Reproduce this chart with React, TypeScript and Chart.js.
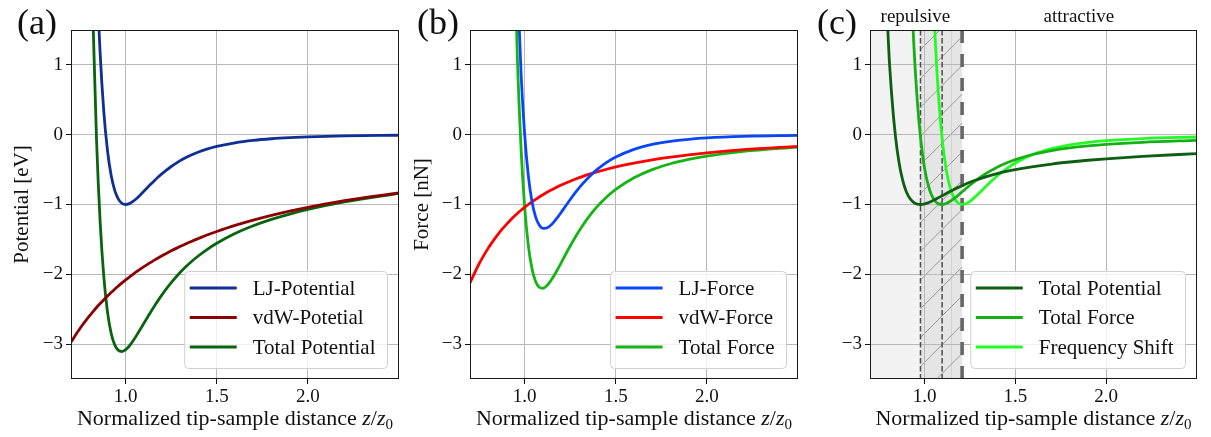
import React, { useEffect, useRef } from "react";
import { Chart, registerables } from "chart.js";

Chart.register(...registerables);

const FONT = '"Liberation Serif", "Times New Roman", serif';

// Normalized tip-sample distance z/z0 (sample positions)
const zGrid = [
  0.70, 0.75, 0.80, 0.82, 0.84, 0.86, 0.88, 0.90, 0.92, 0.94,
  0.96, 0.98, 1.00, 1.02, 1.04, 1.06, 1.08, 1.10, 1.12, 1.14,
  1.16, 1.18, 1.20, 1.22, 1.25, 1.28, 1.32, 1.36, 1.40, 1.45,
  1.50, 1.60, 1.70, 1.80, 1.90, 2.00, 2.20, 2.50,
];

// (a) potentials [eV]
const ljPotential = [
  55.25, 20.33, 6.923, 4.241, 2.410, 1.166, 0.330, -0.2227, -0.5786, -0.7979,
  -0.9230, -0.9834, -1.0, -0.9875, -0.9560, -0.9130, -0.8632, -0.8103, -0.7566, -0.7036,
  -0.6524, -0.6036, -0.5576, -0.5146, -0.4556, -0.4031, -0.3424, -0.2911, -0.2480, -0.2036,
  -0.1679, -0.1157, -0.0811, -0.0579, -0.0421, -0.0310, -0.0176, -0.0082,
];
const vdwPotential = [
  -2.971, -2.773, -2.600, -2.537, -2.476, -2.419, -2.364, -2.311, -2.261, -2.213,
  -2.167, -2.122, -2.080, -2.039, -2.000, -1.962, -1.926, -1.891, -1.857, -1.825,
  -1.793, -1.763, -1.733, -1.705, -1.664, -1.625, -1.576, -1.529, -1.486, -1.434,
  -1.387, -1.300, -1.224, -1.156, -1.095, -1.040, -0.945, -0.832,
];
const totalPotential = [
  52.28, 17.56, 4.323, 1.704, -0.066, -1.253, -2.034, -2.534, -2.840, -3.011,
  -3.090, -3.106, -3.080, -3.027, -2.956, -2.875, -2.789, -2.701, -2.614, -2.528,
  -2.446, -2.366, -2.291, -2.220, -2.120, -2.028, -1.918, -1.821, -1.734, -1.638,
  -1.555, -1.416, -1.305, -1.214, -1.137, -1.071, -0.963, -0.840,
];

// (b) forces [nN]
const ljForce = [
  546.4, 207.6, 80.53, 55.10, 37.55, 25.38, 16.93, 11.06, 6.983, 4.159,
  2.216, 0.891, 0.0, -0.585, -0.956, -1.177, -1.295, -1.341, -1.339, -1.305,
  -1.252, -1.186, -1.114, -1.039, -0.928, -0.823, -0.697, -0.587, -0.494, -0.397,
  -0.320, -0.210, -0.140, -0.095, -0.066, -0.046, -0.024, -0.010,
];
const vdwForce = [
  -2.122, -1.849, -1.625, -1.547, -1.474, -1.406, -1.343, -1.284, -1.229, -1.177,
  -1.128, -1.083, -1.040, -1.000, -0.962, -0.926, -0.892, -0.860, -0.829, -0.800,
  -0.773, -0.747, -0.722, -0.699, -0.666, -0.635, -0.597, -0.562, -0.531, -0.495,
  -0.462, -0.406, -0.360, -0.321, -0.288, -0.260, -0.215, -0.166,
];
const totalForce = [
  544.2, 205.8, 78.90, 53.55, 36.07, 23.97, 15.59, 9.776, 5.754, 2.982,
  1.088, -0.192, -1.040, -1.585, -1.918, -2.103, -2.186, -2.201, -2.168, -2.106,
  -2.025, -1.933, -1.836, -1.738, -1.594, -1.458, -1.294, -1.149, -1.024, -0.892,
  -0.783, -0.617, -0.500, -0.416, -0.354, -0.306, -0.239, -0.176,
];

// (c) normalized curves
const normPotential = [
  16.83, 5.65, 1.392, 0.549, -0.021, -0.403, -0.655, -0.816, -0.914, -0.969,
  -0.995, -1.000, -0.992, -0.974, -0.952, -0.926, -0.898, -0.870, -0.842, -0.814,
  -0.787, -0.762, -0.738, -0.715, -0.682, -0.653, -0.618, -0.586, -0.558, -0.527,
  -0.500, -0.456, -0.420, -0.391, -0.366, -0.345, -0.310, -0.271,
];
const normForce = [
  247.3, 93.5, 35.9, 24.3, 16.39, 10.89, 7.085, 4.443, 2.615, 1.355,
  0.494, -0.087, -0.473, -0.720, -0.871, -0.956, -0.994, -1.000, -0.985, -0.957,
  -0.920, -0.878, -0.834, -0.790, -0.724, -0.663, -0.588, -0.522, -0.465, -0.405,
  -0.356, -0.280, -0.227, -0.189, -0.161, -0.139, -0.109, -0.080,
];
const freqShift = [
  2195, 805.6, 309.6, 213.1, 147.3, 102.0, 70.75, 49.02, 33.86, 23.25,
  15.81, 10.58, 6.913, 4.342, 2.548, 1.305, 0.451, -0.126, -0.506, -0.748,
  -0.892, -0.969, -0.998, -0.995, -0.954, -0.889, -0.787, -0.685, -0.591, -0.490,
  -0.405, -0.281, -0.200, -0.146, -0.110, -0.085, -0.055, -0.033,
];

// minima positions used for region markers in (c): potential, force, frequency shift
const minimaMarkers = [0.978, 1.097, 1.207];
const innerEdge = [1.146];
const regionLabels = ["repulsive", "attractive"];
const regionLabelPos = [0.95, 1.85];

const xTicks = [1.0, 1.5, 2.0];
const yTicks = [-3, -2, -1, 0, 1];
const xRange = [0.7, 2.5];
const yRange = [-3.5, 1.5];

type Series = { label: string; color: string; values: number[] };
type Panel = {
  tag: string;
  left: number;
  width: number;
  yAxisW: number;
  padRight: number;
  labelX: number;
  yTitle: string | null;
  yTitlePad: number;
  shade: boolean;
  series: Series[];
};

const panels: Panel[] = [
  {
    tag: "(a)", left: 0, width: 405, yAxisW: 71, padRight: 6, labelX: 17,
    yTitle: "Potential [eV]", yTitlePad: 10, shade: false,
    series: [
      { label: "LJ-Potential", color: "#0f2f93", values: ljPotential },
      { label: "vdW-Potetial", color: "#8b0000", values: vdwPotential },
      { label: "Total Potential", color: "#0a640f", values: totalPotential },
    ],
  },
  {
    tag: "(b)", left: 405, width: 400, yAxisW: 65, padRight: 7, labelX: 12,
    yTitle: "Force [nN]", yTitlePad: 5, shade: false,
    series: [
      { label: "LJ-Force", color: "#0a46f8", values: ljForce },
      { label: "vdW-Force", color: "#ff0000", values: vdwForce },
      { label: "Total Force", color: "#14b414", values: totalForce },
    ],
  },
  {
    tag: "(c)", left: 805, width: 406, yAxisW: 65, padRight: 14, labelX: 12,
    yTitle: null, yTitlePad: 0, shade: true,
    series: [
      { label: "Total Potential", color: "#0d5e10", values: normPotential },
      { label: "Total Force", color: "#16b016", values: normForce },
      { label: "Frequency Shift", color: "#24fa24", values: freqShift },
    ],
  },
];

const decorPlugin = {
  id: "decor",
  beforeDraw(chart: any, _args: any, opts: any) {
    if (!opts.shade) return;
    const { ctx, chartArea: ca, scales } = chart;
    const x = scales.x;
    const xPot = x.getPixelForValue(minimaMarkers[0]);
    const xFreq = x.getPixelForValue(minimaMarkers[2]);
    const h = ca.bottom - ca.top;
    ctx.save();
    ctx.fillStyle = "#f2f2f2";
    ctx.fillRect(ca.left, ca.top, xPot - ca.left, h);
    ctx.fillStyle = "#e5e5e5";
    ctx.fillRect(xPot, ca.top, xFreq - xPot, h);
    ctx.strokeStyle = "#d2d2d2";
    ctx.lineWidth = 1;
    innerEdge.forEach((v) => {
      const px = Math.round(x.getPixelForValue(v)) + 0.5;
      ctx.beginPath();
      ctx.moveTo(px, ca.top);
      ctx.lineTo(px, ca.bottom);
      ctx.stroke();
    });
    ctx.beginPath();
    ctx.rect(xPot, ca.top, xFreq - xPot, h);
    ctx.clip();
    ctx.strokeStyle = "#8f8f8f";
    ctx.lineWidth = 0.9;
    const sp = 28.8;
    for (let k = -40; k < 40; k++) {
      const c = 165 + k * sp;
      ctx.beginPath();
      ctx.moveTo(xPot - 5, c - (xPot - 5));
      ctx.lineTo(xFreq + 5, c - (xFreq + 5));
      ctx.stroke();
    }
    ctx.restore();
  },
  beforeDatasetsDraw(chart: any, _args: any, opts: any) {
    if (!opts.shade) return;
    const { ctx, chartArea: ca, scales } = chart;
    const x = scales.x;
    ctx.save();
    ctx.beginPath();
    ctx.rect(ca.left, ca.top, ca.right - ca.left, ca.bottom - ca.top);
    ctx.clip();
    ctx.strokeStyle = "#4d4d4d";
    ctx.lineWidth = 1.5;
    ctx.setLineDash([5.5, 2.5]);
    [minimaMarkers[0], minimaMarkers[1]].forEach((v) => {
      const px = x.getPixelForValue(v);
      ctx.beginPath();
      ctx.moveTo(px, ca.top);
      ctx.lineTo(px, ca.bottom);
      ctx.stroke();
    });
    ctx.strokeStyle = "#666666";
    ctx.lineWidth = 3.6;
    ctx.setLineDash([13, 11]);
    const pf = x.getPixelForValue(minimaMarkers[2]);
    ctx.beginPath();
    ctx.moveTo(pf, ca.top);
    ctx.lineTo(pf, ca.bottom);
    ctx.stroke();
    ctx.restore();
  },
  afterDraw(chart: any, _args: any, opts: any) {
    const { ctx, chartArea: ca, scales } = chart;
    const x = scales.x;
    ctx.save();
    ctx.strokeStyle = "#1a1a1a";
    ctx.lineWidth = 1;
    ctx.setLineDash([]);
    ctx.strokeRect(Math.round(ca.left) + 0.5, Math.round(ca.top) + 0.5,
      Math.round(ca.right - ca.left) - 1, Math.round(ca.bottom - ca.top) - 1);

    // legend
    const items = chart.data.datasets.map((d: any) => ({ label: d.label, color: d.borderColor }));
    ctx.font = `21px ${FONT}`;
    const tw = Math.max(...items.map((i: any) => ctx.measureText(i.label).width));
    const w = 5 + 47 + 16 + tw + 12;
    const hh = 97;
    const right = ca.right - 11.5;
    const bottom = ca.bottom - 10.5;
    const left = right - w;
    const top = bottom - hh;
    ctx.beginPath();
    ctx.roundRect(left, top, w, hh, 4);
    ctx.fillStyle = "rgba(255,255,255,0.8)";
    ctx.fill();
    ctx.strokeStyle = "#d0d0d0";
    ctx.lineWidth = 1;
    ctx.stroke();
    items.forEach((it: any, i: number) => {
      const cy = top + 16.5 + i * 29.5;
      ctx.strokeStyle = it.color;
      ctx.lineWidth = 3;
      ctx.beginPath();
      ctx.moveTo(left + 5, cy);
      ctx.lineTo(left + 52, cy);
      ctx.stroke();
      ctx.fillStyle = "#111";
      ctx.textAlign = "left";
      ctx.textBaseline = "middle";
      ctx.fillText(it.label, left + 68, cy + 1);
    });

    // panel tag
    ctx.fillStyle = "#111";
    ctx.font = `36px ${FONT}`;
    ctx.textAlign = "left";
    ctx.textBaseline = "alphabetic";
    ctx.fillText(opts.tag, opts.labelX, 34);

    // x-axis label with math part
    const cx = (ca.left + ca.right) / 2;
    const base = 425;
    const parts = [
      { t: "Normalized tip-sample distance ", f: `22px ${FONT}`, dy: 0 },
      { t: "z", f: `italic 22px ${FONT}`, dy: 0 },
      { t: "/", f: `22px ${FONT}`, dy: 0 },
      { t: "z", f: `italic 22px ${FONT}`, dy: 0 },
      { t: "0", f: `15px ${FONT}`, dy: 4 },
    ];
    let total = 0;
    parts.forEach((p) => { ctx.font = p.f; total += ctx.measureText(p.t).width; });
    let px = cx - total / 2;
    parts.forEach((p) => {
      ctx.font = p.f;
      ctx.fillText(p.t, px, base + p.dy);
      px += ctx.measureText(p.t).width;
    });

    if (opts.shade) {
      ctx.font = `19px ${FONT}`;
      ctx.textAlign = "center";
      regionLabels.forEach((lab, i) => {
        ctx.fillText(lab, x.getPixelForValue(regionLabelPos[i]), 22);
      });
    }
    ctx.restore();
  },
};

function PanelChart({ panel }: { panel: Panel }) {
  const ref = useRef<HTMLCanvasElement | null>(null);
  useEffect(() => {
    if (!ref.current) return;
    const minus = (v: number) => (v < 0 ? "\u2212" + Math.abs(v) : String(v));
    const chart = new Chart(ref.current, {
      type: "line",
      data: {
        datasets: panel.series.map((s) => ({
          label: s.label,
          data: zGrid.map((z, i) => ({ x: z, y: s.values[i] })),
          borderColor: s.color,
          backgroundColor: s.color,
          borderWidth: 2.8,
          pointRadius: 0,
          cubicInterpolationMode: "monotone",
          fill: false,
          clip: 0,
        })),
      },
      options: {
        responsive: false,
        animation: false,
        devicePixelRatio: 1,
        layout: { padding: { top: 30, right: panel.padRight, left: 0, bottom: 0 } },
        plugins: {
          legend: { display: false },
          tooltip: { enabled: false },
          decor: { tag: panel.tag, labelX: panel.labelX, shade: panel.shade },
        } as any,
        scales: {
          x: {
            type: "linear",
            min: xRange[0],
            max: xRange[1],
            afterBuildTicks: (s: any) => { s.ticks = xTicks.map((v) => ({ value: v })); },
            afterFit: (s: any) => { s.height = 58; },
            ticks: {
              callback: (v: any) => Number(v).toFixed(1),
              font: { family: FONT, size: 19 },
              color: "#111",
              padding: 2,
              maxRotation: 0,
              autoSkip: false,
            },
            grid: { color: "#b8b8b8", lineWidth: 1, drawTicks: true, tickLength: 5, tickColor: "#111" },
            border: { display: false },
          },
          y: {
            type: "linear",
            min: yRange[0],
            max: yRange[1],
            afterBuildTicks: (s: any) => { s.ticks = yTicks.map((v) => ({ value: v })); },
            afterFit: (s: any) => { s.width = panel.yAxisW; },
            ticks: {
              callback: (v: any) => minus(Number(v)),
              font: { family: FONT, size: 19 },
              color: "#111",
              padding: 3,
              autoSkip: false,
            },
            grid: { color: "#b8b8b8", lineWidth: 1, drawTicks: true, tickLength: 5, tickColor: "#111" },
            border: { display: false },
            title: {
              display: !!panel.yTitle,
              text: panel.yTitle || "",
              font: { family: FONT, size: 21 },
              color: "#111",
              padding: { top: panel.yTitlePad, bottom: 0 },
            },
          },
        },
      } as any,
      plugins: [decorPlugin as any],
    });
    return () => chart.destroy();
  }, [panel]);
  return (
    <canvas
      ref={ref}
      width={panel.width}
      height={437}
      style={{ position: "absolute", left: panel.left, top: 0, width: panel.width, height: 437 }}
    />
  );
}

export default function App() {
  return (
    <div style={{ position: "absolute", left: 0, top: 0, width: 1211, height: 437, background: "#fff" }}>
      {panels.map((p) => (
        <PanelChart key={p.tag} panel={p} />
      ))}
    </div>
  );
}
